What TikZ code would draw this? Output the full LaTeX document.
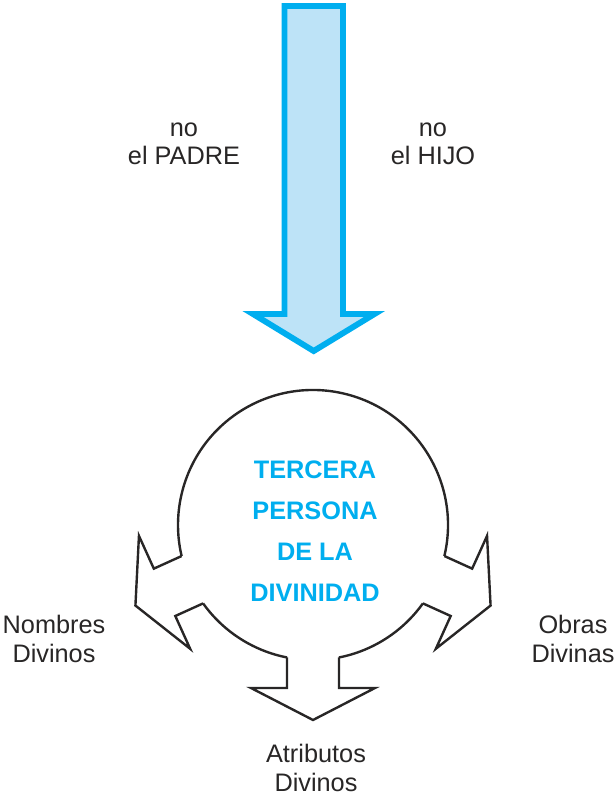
\documentclass[tikz,border=0pt]{standalone}
\usepackage{xcolor}
\usepackage{fontspec}
\setmainfont{Liberation Sans}
\definecolor{skyLine}{RGB}{0,174,239}
\definecolor{skyFill}{RGB}{189,227,247}
\definecolor{inkGray}{RGB}{40,38,38}
\tikzset{
    outline/.style={draw=inkGray, line width=1.7pt, line join=miter},
    bigArrow/.style={draw=skyLine, fill=skyFill, line width=4.2pt, line join=miter},
    lbl/.style={align=center, text=inkGray, font=\fontsize{18}{20}\selectfont},
    core/.style={align=center, text=skyLine, font=\bfseries\fontsize{18}{29}\selectfont}
}

\begin{document}
\begin{tikzpicture}[x=0.025cm, y=0.025cm]
            \useasboundingbox (0,0) rectangle (613,797);
            \coordinate (ctr) at (313,272);
            \draw[bigArrow] (284.5,791) -- (284.5,483) -- (253,483) -- (313.7,446) -- (374.5,483) -- (343,483) -- (343,791) -- cycle;
            \node[lbl] (padreLbl) at (184,653) {no\\el PADRE};
            \node[lbl] (hijoLbl) at (433,653) {no\\el HIJO};
            \begin{scope}[shift={(ctr)}]
                \foreach \a in {-90, 204.4, -24.4}{
                    \draw[outline, rotate=\a] (132.5,-26) -- (163,-26) -- (163,-62) -- (195,0) -- (163,62) -- (163,26) -- (132.5,26);
                }
                \draw[outline] (-13.3:135) arc[start angle=-13.3, end angle=193.3, radius=135];
                \draw[outline] (215.5:135) arc[start angle=215.5, end angle=258.9, radius=135];
                \draw[outline] (281.1:135) arc[start angle=281.1, end angle=324.5, radius=135];
            \end{scope}
            \node[core] (tercera) at (315,266) {TERCERA\\PERSONA\\DE LA\\DIVINIDAD};
            \node[lbl] (nombres) at (54,158) {Nombres\\Divinos};
            \node[lbl] (obras) at (573,158) {Obras\\Divinas};
            \node[lbl] (atributos) at (316,29) {Atributos\\Divinos};
        \end{tikzpicture}
\end{document}
